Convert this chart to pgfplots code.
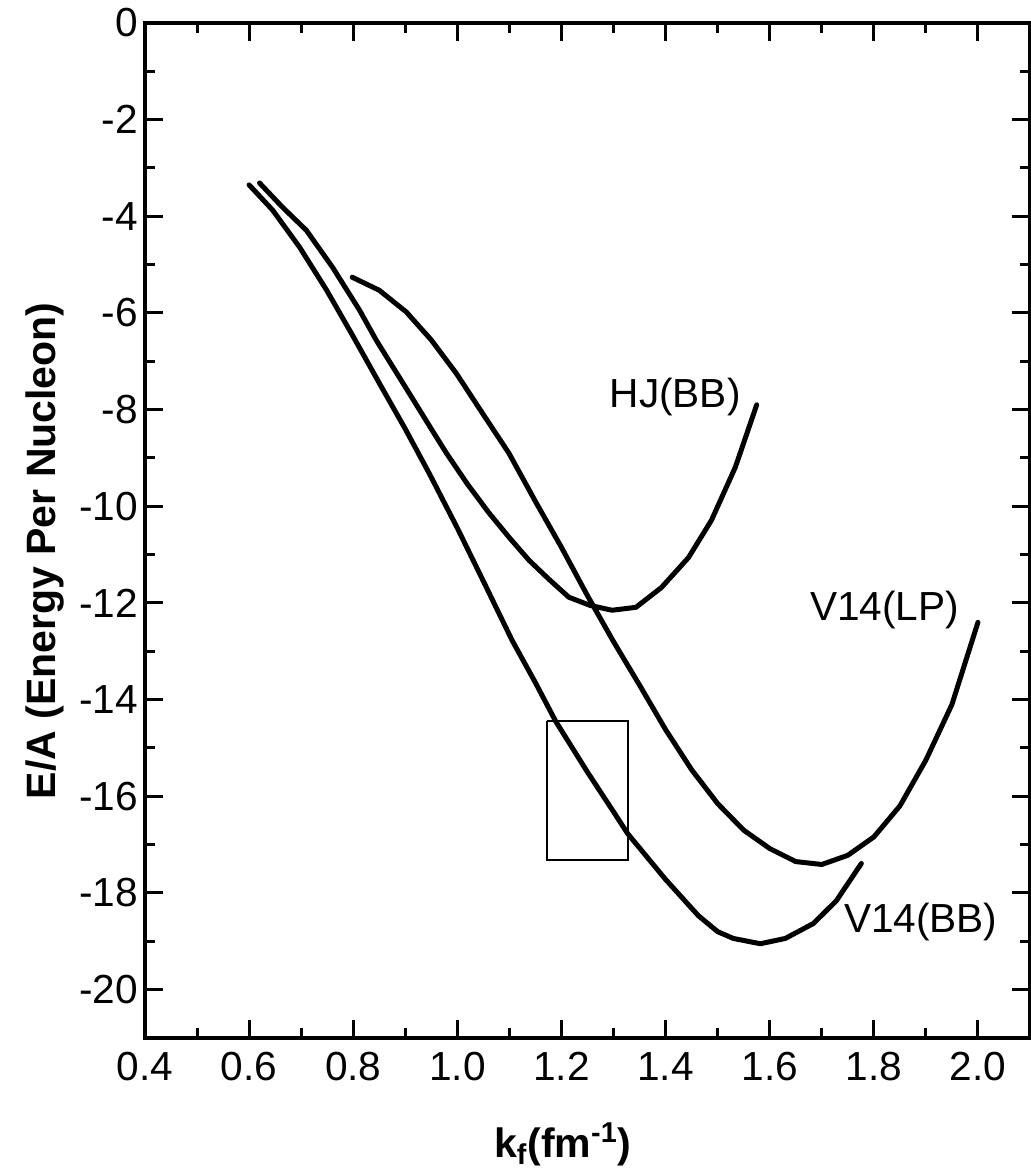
\documentclass[border=0pt]{standalone}
\usepackage{fontspec}
\setmainfont{Liberation Sans}
\usepackage{pgfplots}
\usepackage{pgfplotstable}
\pgfplotsset{compat=1.18}

\pgfplotstableread{
x y
0.600 -3.35
0.645 -3.87
0.697 -4.64
0.749 -5.53
0.798 -6.45
0.850 -7.45
0.900 -8.40
0.946 -9.32
1.000 -10.45
1.050 -11.55
1.105 -12.77
1.150 -13.65
1.189 -14.45
1.250 -15.50
1.300 -16.32
1.327 -16.77
1.400 -17.72
1.463 -18.47
1.500 -18.80
1.530 -18.94
1.582 -19.05
1.630 -18.94
1.684 -18.63
1.728 -18.16
1.776 -17.39
}\vbb

\pgfplotstableread{
x y
0.620 -3.31
0.664 -3.81
0.710 -4.29
0.760 -5.05
0.812 -5.94
0.844 -6.56
0.900 -7.53
0.950 -8.40
0.979 -8.90
1.020 -9.55
1.061 -10.14
1.100 -10.65
1.138 -11.12
1.175 -11.50
1.214 -11.88
1.255 -12.05
1.297 -12.15
1.343 -12.09
1.392 -11.68
1.444 -11.06
1.488 -10.29
1.534 -9.19
1.575 -7.90
}\hjbb

\pgfplotstableread{
x y
0.798 -5.26
0.850 -5.53
0.902 -5.98
0.950 -6.56
0.998 -7.25
1.048 -8.07
1.099 -8.90
1.150 -9.90
1.200 -10.85
1.250 -11.85
1.300 -12.80
1.350 -13.70
1.400 -14.62
1.450 -15.45
1.500 -16.15
1.550 -16.70
1.600 -17.08
1.650 -17.35
1.700 -17.41
1.750 -17.22
1.800 -16.84
1.850 -16.20
1.900 -15.25
1.950 -14.10
2.000 -12.40
}\vlp

\begin{document}
\begin{tikzpicture}
\begin{axis}[
  scale only axis,
  width=442.5pt, height=507.5pt,
  xmin=0.4, xmax=2.1, ymin=-21, ymax=0,
  xtick={0.4,0.6,0.8,1.0,1.2,1.4,1.6,1.8,2.0},
  ytick={-20,-18,-16,-14,-12,-10,-8,-6,-4,-2,0},
  minor x tick num=1, minor y tick num=1,
  tick align=inside,
  major tick length=9pt, minor tick length=5pt,
  every tick/.style={black, line width=1.5pt},
  axis line style={black, line width=1.6pt},
  /pgf/number format/assume math mode=true,
  tick label style={font=\fontsize{20.3}{24}\selectfont},
  xticklabel style={yshift=-3.5pt, /pgf/number format/.cd, fixed, fixed zerofill, precision=1},
  yticklabel style={/pgf/number format/.cd, fixed, precision=0},
  xlabel={k\textsubscript{f}(fm\textsuperscript{-1})},
  ylabel={E/A (Energy Per Nucleon)},
  label style={font=\bfseries\fontsize{20.5}{24}\selectfont},
  xlabel style={at={(axis description cs:0.472,-0.105)}, anchor=center},
  ylabel style={at={(axis description cs:-0.113,0.48)}, anchor=center, rotate=0},
  clip=false,
]
\addplot[black, line width=2.5pt, line join=round, line cap=round] table[x=x,y=y]{\vbb};
\addplot[black, line width=2.5pt, line join=round, line cap=round] table[x=x,y=y]{\hjbb};
\addplot[black, line width=2.5pt, line join=round, line cap=round] table[x=x,y=y]{\vlp};
\addplot[black, line width=1pt] coordinates {(1.172,-14.45) (1.327,-14.45) (1.327,-17.31) (1.172,-17.31) (1.172,-14.45)};
\node[anchor=base west, inner sep=0pt, font=\fontsize{20.3}{24}\selectfont] at (axis cs:1.292,-7.95) {HJ(BB)};
\node[anchor=base west, inner sep=0pt, font=\fontsize{20.3}{24}\selectfont] at (axis cs:1.677,-12.36) {V14(LP)};
\node[anchor=base west, inner sep=0pt, font=\fontsize{20.3}{24}\selectfont] at (axis cs:1.742,-18.82) {V14(BB)};
\coordinate (SW) at (rel axis cs:0,0);
\coordinate (NE) at (rel axis cs:1,1);
\end{axis}
\pgfresetboundingbox
\path ([xshift=-72.5pt,yshift=-65.5pt]SW) rectangle ([yshift=11.5pt]NE);
\end{tikzpicture}
\end{document}
